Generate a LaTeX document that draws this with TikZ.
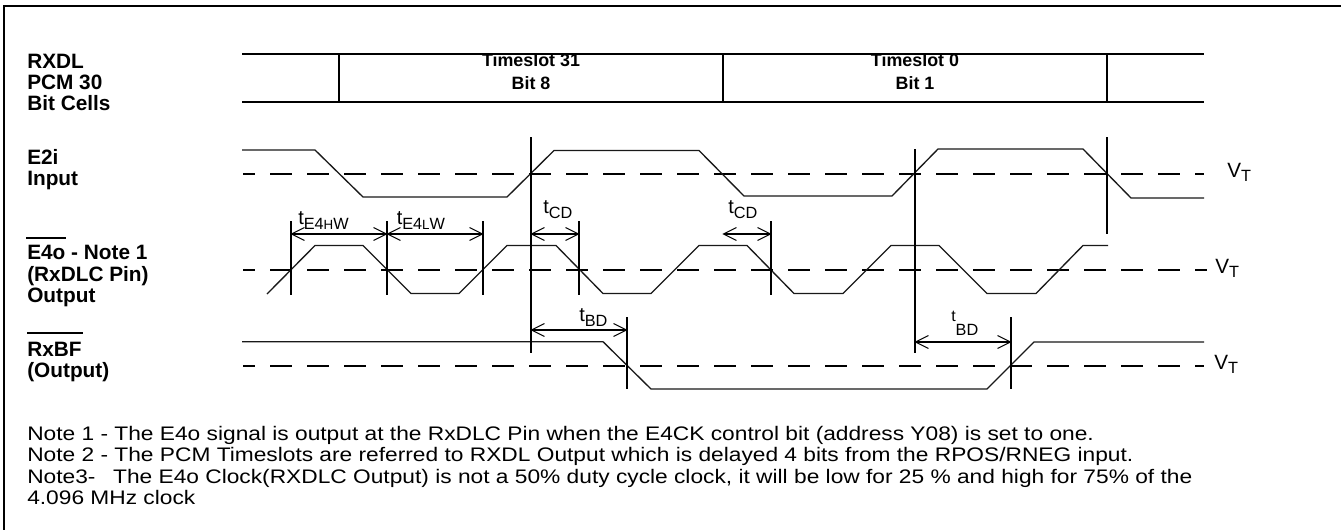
\documentclass[tikz,border=0pt]{standalone}
\usepackage{fontspec}
\setmainfont{Liberation Sans}
\newfontfamily\notefont[FakeStretch=1.16]{Liberation Sans}
\usetikzlibrary{arrows.meta}
\newcommand{\fs}[1]{\fontsize{#1}{#1}\selectfont}
\newcommand{\tlabel}[3]{{\fs{15}t}\raisebox{-#1pt}{\fs{12.2}#2}{\fs{10}\raisebox{-#1pt}{#3}}}
\tikzset{
  x=.75pt,y=-.75pt,
  frameline/.style={line width=1.5pt,line cap=rect},
  cellline/.style={line width=1.5pt},
  wave/.style={line width=1pt,line join=miter,black!90},
  thresh/.style={line width=1.5pt,dash pattern=on 16.5pt off 11.25pt,dash phase=7.5pt},
  tick/.style={line width=1.5pt},
  barline/.style={line width=2pt},
  dim/.style={line width=1.5pt,{Straight Barb[length=9.75pt,width=9.75pt,line width=.75pt]}-{Straight Barb[length=9.75pt,width=9.75pt,line width=.75pt]},shorten <=-.5pt,shorten >=-.5pt},
  boldlab/.style={anchor=base west,inner sep=0pt,font=\fs{15.6}\bfseries},
  cellt/.style={anchor=base,inner sep=0pt,font=\fs{13.4}\bfseries},
  notetext/.style={anchor=base west,inner sep=0pt,font=\notefont\fs{14.7}},
  timel/.style={anchor=base west,inner sep=0pt},
}
\begin{document}
\begin{tikzpicture}
\useasboundingbox (0,0) rectangle (1341,529);
% frame
\draw[frameline] (4,529) -- (4,6) -- (1341,6);
% left labels
\node[boldlab] (l1) at (27,68) {RXDL};
\node[boldlab] (l2) at (27,89) {PCM 30};
\node[boldlab] (l3) at (27,110.5) {Bit Cells};
\node[boldlab] (l4) at (27,164) {E2i};
\node[boldlab] (l5) at (27,185) {Input};
\node[boldlab] (l6) at (27,259.5) {E4o - Note 1};
\node[boldlab] (l7) at (27,281) {(RxDLC Pin)};
\node[boldlab] (l8) at (27,302) {Output};
\node[boldlab] (l9) at (27,356) {RxBF};
\node[boldlab] (l10) at (27,377) {(Output)};
\draw[barline] (26,238) -- (66,238);
\draw[barline] (27,333) -- (83,333);
% bit cells
\node[cellt] (c1) at (531,66) {Timeslot 31};
\node[cellt] (c2) at (531,89) {Bit 8};
\node[cellt] (c3) at (915,66) {Timeslot 0};
\node[cellt] (c4) at (915,89) {Bit 1};
\draw[cellline] (242,54) -- (1204,54);
\draw[cellline] (242,102) -- (1204,102);
\foreach \x in {339,723,1107} \draw[cellline] (\x,54) -- (\x,102);
% thresholds
\draw[thresh] (243,174) -- (1204,174);
\draw[thresh] (243,270) -- (1207,270);
\draw[thresh] (243,366) -- (1204,366);
% E2i
\draw[wave] (242,150) -- (315,150) -- (363,197) -- (507,197) -- (554,150.5) -- (699,150.5) -- (744,196) -- (892,196) -- (938,149) -- (1083,149) -- (1131,198) -- (1204,198);
% E4o
\draw[wave] (267,294) -- (315,245.5) -- (363,245.5) -- (411,293.5) -- (459,293.5) -- (507,245.5) -- (556,245.5) -- (603,293.5) -- (651,293.5) -- (699,245.5) -- (747,245.5) -- (794,293.5) -- (843,293.5) -- (891,245.5) -- (939,245.5) -- (987,293.5) -- (1036,293.5) -- (1083,245.5) -- (1108,245.5);
% RxBF
\draw[wave] (242,341.7) -- (603,341.7) -- (651,389) -- (987,389) -- (1034,342) -- (1204,342);
% vertical markers
\draw[tick] (531,137) -- (531,353);
\draw[tick] (1107,137) -- (1107,234);
\draw[tick] (915,149) -- (915,353);
\foreach \x in {291,387,483,579,771} \draw[tick] (\x,221) -- (\x,294.5);
\foreach \x in {627,1011} \draw[tick] (\x,317) -- (\x,389);
% dimension end points
\coordinate (h1) at (291,234);
\coordinate (h2) at (387,234);
\coordinate (h3) at (483,234);
\coordinate (d1) at (531,234);
\coordinate (d2) at (579,234);
\coordinate (d3) at (723,234);
\coordinate (d4) at (771,234);
\coordinate (b1) at (531,330);
\coordinate (b2) at (627,330);
\coordinate (b3) at (915,342);
\coordinate (b4) at (1011,342);
\draw[dim] (h1) -- (h2);
\draw[dim] (h2) -- (h3);
\draw[dim] (d1) -- (d2);
\draw[dim] (d3) -- (d4);
\draw[dim] (b1) -- (b2);
\draw[dim] (b3) -- (b4);
% timing labels
\node[timel] (t1) at (298,224.5) {\tlabel{4}{E4}{H}{\fs{12.2}\raisebox{-4pt}{W}}};
\node[timel] (t2) at (396.5,224.5) {\tlabel{4}{E4}{L}{\fs{12.2}\raisebox{-4pt}{W}}};
\node[timel] (t3) at (543,213) {\tlabel{4}{CD}{}};
\node[timel] (t4) at (728,213) {\tlabel{4}{CD}{}};
\node[timel] (t5) at (579,321.5) {\tlabel{3.4}{BD}{}};
\node[timel] (t6) at (951,321) {{\fs{12}t}\raisebox{-10.5pt}{\fs{12.2}BD}};
% VT
\node[timel] (v1) at (1227,177) {{\fs{15.5}V}\raisebox{-3.7pt}{\fs{12.2}T}};
\node[timel] (v2) at (1215,273) {{\fs{15.5}V}\raisebox{-3.7pt}{\fs{12.2}T}};
\node[timel] (v3) at (1214,369) {{\fs{15.5}V}\raisebox{-3.7pt}{\fs{12.2}T}};
% notes
\node[notetext] (n1) at (27,440) {Note 1 - The E4o signal is output at the RxDLC Pin when the E4CK control bit (address Y08) is set to one.};
\node[notetext] (n2) at (27,461) {Note 2 - The PCM Timeslots are referred to RXDL Output which is delayed 4 bits from the RPOS/RNEG input.};
\node[notetext] (n3) at (27,483) {Note3-\hspace{.9em}The E4o Clock(RXDLC Output) is not a 50\% duty cycle clock, it will be low for 25 \% and high for 75\% of the};
\node[notetext] (n4) at (27,504) {4.096 MHz clock};
\end{tikzpicture}
\end{document}
